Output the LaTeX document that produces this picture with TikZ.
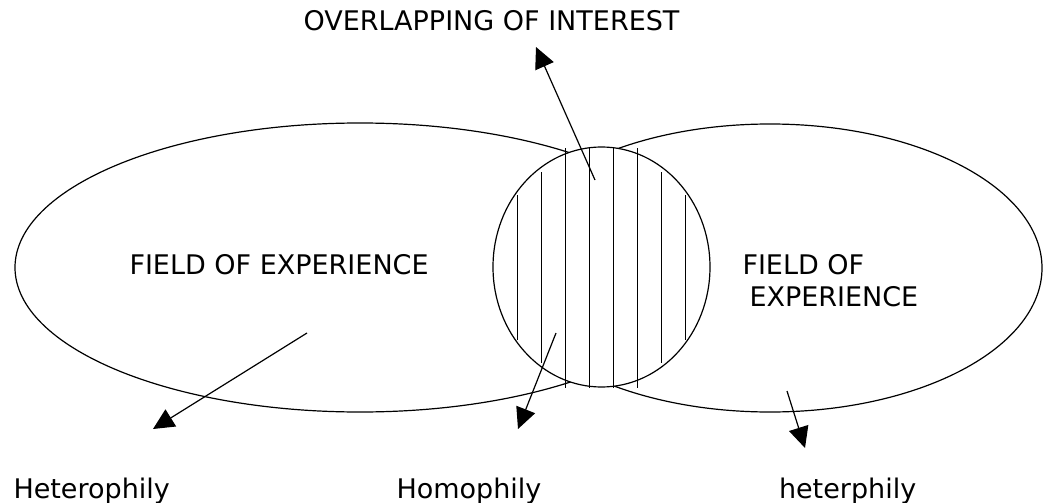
\documentclass[tikz,border=0pt]{standalone}
\usepackage{fontspec}
\setmainfont{DejaVu Sans}
\usetikzlibrary{arrows.meta,shapes.geometric}
\begin{document}
\begin{tikzpicture}[x=1pt,y=-1pt,line width=1.2pt,
  lbl/.style={inner sep=0pt,outer sep=0pt,font=\fontsize{27}{32}\selectfont},
  field/.style={ellipse,draw,inner sep=0pt},
  ptr/.style={-{Triangle[length=21pt,width=20pt]},line width=1.2pt},
  hatch/.style={line width=1.2pt}]
\useasboundingbox (0,0) rectangle (1047,503);
% fields of experience
\node[field,minimum width=690pt,minimum height=289pt] (fieldL) at (360,267.5) {};
\node[field,minimum width=544pt,minimum height=288pt] (fieldR) at (770,268) {};
% overlap
\node[field,fill=white,minimum width=217pt,minimum height=240pt] (overlap) at (601.5,267) {};
% hatching
\draw[hatch] (517.5,195) -- (517.5,340);
\draw[hatch] (541.5,172) -- (541.5,363);
\draw[hatch] (565.5,148) -- (565.5,388);
\draw[hatch] (589.5,148) -- (589.5,388);
\draw[hatch] (613.5,148) -- (613.5,388);
\draw[hatch] (637.5,148) -- (637.5,388);
\draw[hatch] (661.5,172) -- (661.5,363);
\draw[hatch] (685.5,195) -- (685.5,340);
% labels
\node[lbl,anchor=base west] (tOver) at (303.5,31) {OVERLAPPING OF INTEREST};
\node[lbl,anchor=base west] (tFieldL) at (129.5,274) {FIELD OF EXPERIENCE};
\node[lbl,anchor=base west] (tFieldR1) at (742.5,274) {FIELD OF};
\node[lbl,anchor=base west] (tFieldR2) at (749.5,306) {EXPERIENCE};
\node[lbl,anchor=base west] (tHetL) at (13.5,498) {Heterophily};
\node[lbl,anchor=base west] (tHom) at (396.5,498) {Homophily};
\node[lbl,anchor=base west] (tHetR) at (779,498) {heterphily};
% arrows
\coordinate (a1s) at (307,333); \coordinate (a1t) at (153,429);
\coordinate (a2s) at (556,333); \coordinate (a2t) at (518,429);
\coordinate (a3s) at (787,391); \coordinate (a3t) at (805,448);
\coordinate (a4s) at (595,180); \coordinate (a4t) at (536,47);
\draw[ptr] (a1s) -- (a1t);
\draw[ptr] (a2s) -- (a2t);
\draw[ptr] (a3s) -- (a3t);
\draw[ptr] (a4s) -- (a4t);
\end{tikzpicture}
\end{document}
